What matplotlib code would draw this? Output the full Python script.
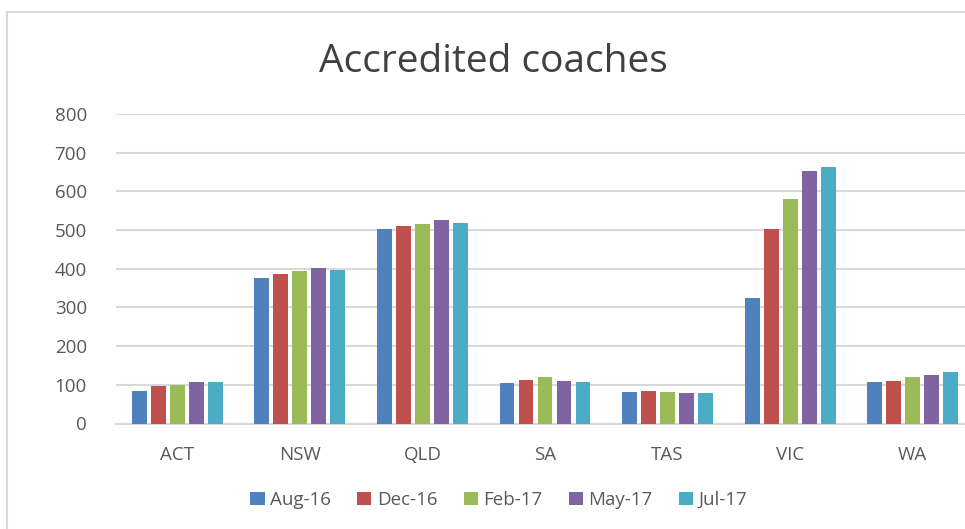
import matplotlib
matplotlib.use("Agg")
import matplotlib.pyplot as plt
import numpy as np
from matplotlib.patches import Patch, Rectangle

categories = ["ACT", "NSW", "QLD", "SA", "TAS", "VIC", "WA"]
series_names = ["Aug-16", "Dec-16", "Feb-17", "May-17", "Jul-17"]
aug16 = [83, 375, 502, 104, 81, 324, 106]
dec16 = [97, 386, 511, 112, 83, 503, 110]
feb17 = [100, 394, 515, 119, 81, 579, 120]
may17 = [106, 402, 525, 109, 78, 653, 126]
jul17 = [107, 397, 517, 106, 78, 663, 133]
series = [aug16, dec16, feb17, may17, jul17]
colors = ["#4F81BD", "#C0504D", "#9BBB59", "#8064A2", "#4BACC6"]
yticks = [0, 100, 200, 300, 400, 500, 600, 700, 800]

plt.rcParams['font.family'] = ['Open Sans', 'DejaVu Sans']
txt = "#595959"

fig = plt.figure(figsize=(9.65, 5.29), dpi=100)
W, H = 965, 529
ax = fig.add_axes([116 / W, 1 - 423.5 / H, (974 - 116) / W, (423.5 - 114) / H])

x = np.arange(len(categories))
pitch = 0.155
bw = 0.122
for i, (vals, c, name) in enumerate(zip(series, colors, series_names)):
    ax.bar(x + (i - 2) * pitch, vals, width=bw, color=c, label=name, zorder=3)

ax.set_xlim(-0.5, len(categories) - 0.5)
ax.set_ylim(0, 800)
ax.set_yticks(yticks)
ax.set_xticks(x)
ax.set_xticklabels(categories)
ax.yaxis.grid(True, color="#d9d9d9", linewidth=1.5, zorder=0)
ax.set_axisbelow(True)
for s in ["top", "right", "left"]:
    ax.spines[s].set_visible(False)
ax.spines["bottom"].set_color("#d9d9d9")
ax.spines["bottom"].set_linewidth(1.5)
ax.tick_params(axis="both", length=0, labelsize=13.5, labelcolor=txt)
ax.tick_params(axis="y", pad=21)
ax.tick_params(axis="x", pad=16)

fig.text(493 / W, 1 - 62 / H, "Accredited coaches", ha="center", va="center",
         fontsize=28, color="#404040")

handles = [Patch(facecolor=c, label=n) for c, n in zip(colors, series_names)]
fig.legend(handles=handles, loc="center", bbox_to_anchor=(499 / W, 1 - 500 / H),
           ncol=5, frameon=False, fontsize=13.5, handlelength=0.75, handleheight=0.75,
           handletextpad=0.3, columnspacing=1.4, labelcolor=txt)

fig.patches.append(Rectangle((7 / W, -0.05), 1.2, 1 - 12 / H + 0.05, transform=fig.transFigure,
                             fill=False, edgecolor="#d9d9d9", linewidth=1.5))

fig.savefig("out.png", dpi=100)
